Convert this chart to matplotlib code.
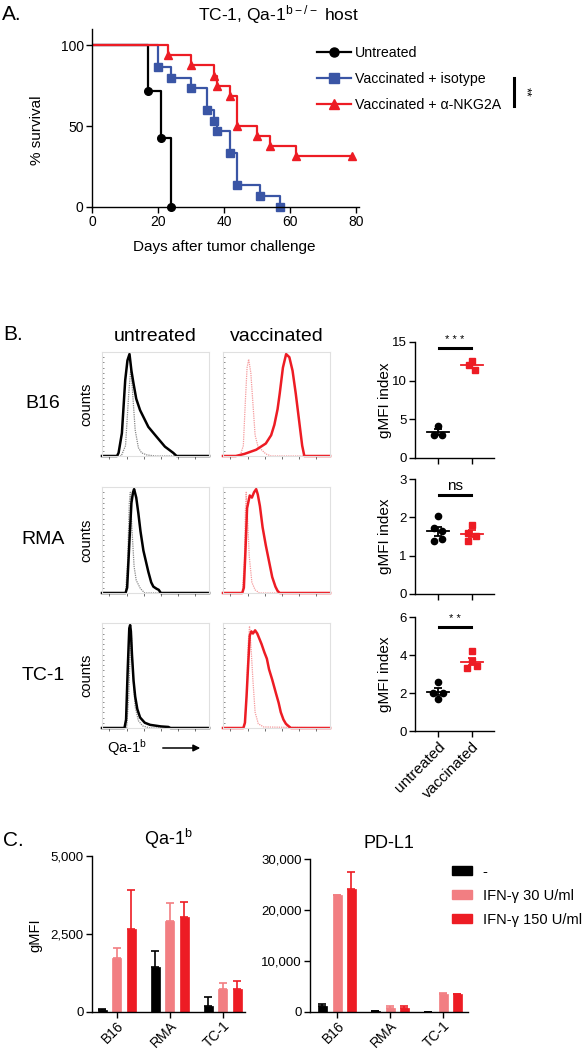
import numpy as np
import matplotlib.pyplot as plt
from matplotlib.lines import Line2D
from matplotlib.patches import Patch, FancyArrowPatch

plt.rcParams['font.family'] = ['Liberation Sans', 'DejaVu Sans']
plt.rcParams['mathtext.fontset'] = 'custom'
plt.rcParams['mathtext.rm'] = 'Liberation Sans'
plt.rcParams['mathtext.default'] = 'regular'

W, H = 584, 1050
RED = '#ed1c24'
LIGHT_RED = '#f27e82'
BLUE = '#3a55a5'

# ---------------- panel A: survival ----------------
days_untreated = [0, 17, 21, 24]
surv_untreated = [100, 71.4, 42.9, 0]
days_isotype = [0, 20, 24, 30, 35, 37, 38, 42, 44, 51, 57]
surv_isotype = [100, 86.7, 80, 73.3, 60, 53.3, 46.7, 33.3, 13.3, 6.7, 0]
days_nkg2a = [0, 23, 30, 37, 38, 42, 44, 50, 54, 62, 79]
surv_nkg2a = [100, 93.75, 87.5, 81.25, 75, 68.75, 50, 43.75, 37.5, 31.25, 31.25]
labels_a = ['Untreated', 'Vaccinated + isotype', 'Vaccinated + α-NKG2A']

# ---------------- panel B: histograms (x = channel fraction, y = fraction of max) ----------------
b16_untr_x = [0, 0.14, 0.155, 0.186, 0.217, 0.238, 0.257, 0.275, 0.294, 0.32, 0.356, 0.433, 0.51, 0.588, 0.666, 0.697, 1]
b16_untr_y = [0, 0, 0.03, 0.22, 0.73, 0.92, 0.98, 0.82, 0.70, 0.55, 0.44, 0.28, 0.185, 0.09, 0.03, 0, 0]
b16_untr_iso_x = [0, 0.18, 0.22, 0.25, 0.27, 0.29, 0.31, 0.34, 0.37, 0.42, 0.5, 1]
b16_untr_iso_y = [0, 0, 0.1, 0.6, 0.85, 0.55, 0.25, 0.08, 0.03, 0.01, 0, 0]
b16_vacc_x = [0, 0.12, 0.2, 0.31, 0.40, 0.45, 0.48, 0.51, 0.53, 0.56, 0.59, 0.62, 0.65, 0.68, 0.71, 0.74, 0.76, 1]
b16_vacc_y = [0, 0, 0.02, 0.06, 0.12, 0.2, 0.3, 0.45, 0.6, 0.85, 0.98, 0.95, 0.82, 0.6, 0.35, 0.1, 0, 0]
b16_vacc_iso_x = [0, 0.16, 0.19, 0.21, 0.225, 0.24, 0.26, 0.28, 0.30, 0.33, 0.36, 0.40, 0.45, 1]
b16_vacc_iso_y = [0, 0, 0.1, 0.55, 0.85, 0.93, 0.8, 0.5, 0.2, 0.08, 0.06, 0.02, 0, 0]

rma_untr_x = [0, 0.22, 0.235, 0.257, 0.275, 0.29, 0.30, 0.32, 0.34, 0.36, 0.387, 0.41, 0.433, 0.46, 0.48, 0.51, 0.53, 0.55, 1]
rma_untr_y = [0, 0, 0.05, 0.5, 0.85, 0.95, 0.98, 0.9, 0.75, 0.58, 0.4, 0.3, 0.2, 0.1, 0.06, 0.04, 0.03, 0, 0]
rma_untr_iso_x = [0, 0.22, 0.24, 0.255, 0.265, 0.28, 0.30, 0.32, 0.36, 0.40, 1]
rma_untr_iso_y = [0, 0, 0.3, 0.85, 0.95, 0.6, 0.25, 0.12, 0.04, 0, 0]
rma_vacc_x = [0, 0.18, 0.195, 0.21, 0.225, 0.25, 0.27, 0.29, 0.31, 0.325, 0.345, 0.37, 0.40, 0.43, 0.46, 0.49, 0.51, 0.53, 1]
rma_vacc_y = [0, 0, 0.05, 0.4, 0.8, 0.92, 0.9, 0.95, 0.98, 0.93, 0.82, 0.62, 0.45, 0.3, 0.15, 0.06, 0.02, 0, 0]
rma_vacc_iso_x = [0, 0.18, 0.2, 0.21, 0.217, 0.23, 0.245, 0.27, 0.3, 0.34, 1]
rma_vacc_iso_y = [0, 0, 0.3, 0.8, 0.95, 0.7, 0.35, 0.1, 0.03, 0, 0]

tc1_untr_x = [0, 0.21, 0.225, 0.24, 0.255, 0.263, 0.27, 0.28, 0.295, 0.31, 0.33, 0.356, 0.40, 0.45, 0.55, 0.62, 0.64, 1]
tc1_untr_y = [0, 0, 0.08, 0.55, 0.95, 0.98, 0.92, 0.7, 0.45, 0.3, 0.18, 0.1, 0.05, 0.03, 0.015, 0.01, 0, 0]
tc1_untr_iso_x = [0, 0.23, 0.25, 0.265, 0.275, 0.29, 0.31, 0.34, 0.38, 0.45, 1]
tc1_untr_iso_y = [0, 0, 0.3, 0.8, 0.88, 0.5, 0.2, 0.07, 0.02, 0, 0]
tc1_vacc_x = [0, 0.19, 0.205, 0.22, 0.235, 0.25, 0.265, 0.28, 0.30, 0.32, 0.34, 0.36, 0.387, 0.41, 0.43,
              0.46, 0.495, 0.52, 0.54, 0.565, 0.588, 0.61, 0.635, 1]
tc1_vacc_y = [0, 0, 0.05, 0.3, 0.6, 0.88, 0.92, 0.9, 0.93, 0.9, 0.85, 0.8, 0.72, 0.66, 0.56,
              0.46, 0.33, 0.24, 0.15, 0.08, 0.04, 0.02, 0, 0]
tc1_vacc_iso_x = [0, 0.2, 0.22, 0.235, 0.248, 0.26, 0.28, 0.30, 0.33, 0.38, 1]
tc1_vacc_iso_y = [0, 0, 0.3, 0.8, 0.97, 0.8, 0.45, 0.15, 0.04, 0.01, 0]

# ---------------- panel B: gMFI index dot plots ----------------
b16_untr_dots = [4.2, 3.0, 3.0]
b16_vacc_dots = [12.6, 12.0, 11.4]
rma_untr_dots = [2.03, 1.72, 1.65, 1.44, 1.37]
rma_vacc_dots = [1.80, 1.60, 1.51, 1.37]
tc1_untr_dots = [2.6, 2.0, 2.0, 1.7]
tc1_vacc_dots = [4.2, 3.7, 3.4, 3.3]
dot_groups = ['untreated', 'vaccinated']

# ---------------- panel C: bar charts ----------------
cell_lines = ['B16', 'RMA', 'TC-1']
treatments = ['-', 'IFN-γ 30 U/ml', 'IFN-γ 150 U/ml']
qa1_none = [50, 1440, 190]
qa1_none_err = [55, 500, 290]
qa1_ifn30 = [1730, 2910, 750]
qa1_ifn30_err = [320, 580, 190]
qa1_ifn150 = [2650, 3050, 740]
qa1_ifn150_err = [1250, 480, 240]
pdl1_none = [1200, 260, 60]
pdl1_none_err = [400, 0, 0]
pdl1_ifn30 = [22900, 720, 3600]
pdl1_ifn30_err = [130, 520, 130]
pdl1_ifn150 = [24200, 720, 3460]
pdl1_ifn150_err = [3200, 520, 0]

fig = plt.figure(figsize=(W / 100, H / 100), dpi=100)


def add_ax(x0, y0, x1, y1):
    return fig.add_axes([x0 / W, 1 - y1 / H, (x1 - x0) / W, (y1 - y0) / H])


def ftext(x, y, s, **kw):
    fig.text(x / W, 1 - y / H, s, **kw)


def clean(ax, labelsize=9):
    ax.spines['top'].set_visible(False)
    ax.spines['right'].set_visible(False)
    for s in ['left', 'bottom']:
        ax.spines[s].set_linewidth(1.0)
    ax.tick_params(direction='out', length=4, width=1.0, labelsize=labelsize, pad=2)


# ===== A =====
ftext(2, 14, 'A.', fontsize=15, va='center')
ftext(278, 15, 'TC-1, Qa-1$^{b-/-}$ host', fontsize=12.5, ha='center', va='center')
ax = add_ax(92, 29, 359.4, 207)
series = [(days_untreated, surv_untreated, 'black', 'o', 5.5),
          (days_isotype, surv_isotype, BLUE, 's', 5.5),
          (days_nkg2a, surv_nkg2a, RED, '^', 6)]
handles = []
for (d, s, c, m, ms), lab in zip(series, labels_a):
    ax.step(d, s, where='post', color=c, lw=1.6)
    ax.plot(d[1:], s[1:], m, color=c, ms=ms, ls='none', clip_on=False)
    handles.append(Line2D([], [], color=c, marker=m, ms=ms + 1, lw=1.6))
ax.set_xlim(0, 81.1)
ax.set_ylim(0, 110)
ax.set_xticks([0, 20, 40, 60, 80])
ax.set_yticks([0, 50, 100])
clean(ax, labelsize=10)
ftext(37, 130, '% survival', fontsize=11, rotation=90, ha='center', va='center')
ftext(224, 247, 'Days after tumor challenge', fontsize=11, ha='center', va='center')
ax.legend(handles=handles, labels=labels_a, loc='upper left', bbox_to_anchor=(317 / W, 1 - 46 / H),
          bbox_transform=fig.transFigure, frameon=False, fontsize=10.2, handlelength=2.4,
          handletextpad=0.3, labelspacing=0.85, borderpad=0, borderaxespad=0)
fig.add_artist(Line2D([514 / W, 514 / W], [1 - 78 / H, 1 - 106 / H], color='black', lw=2.2,
                      transform=fig.transFigure))
ftext(525, 92, '**', fontsize=9, rotation=270, ha='center', va='center')

# ===== B: histograms =====
ftext(3, 335, 'B.', fontsize=15, va='center')
ftext(155, 336, 'untreated', fontsize=14, ha='center', va='center')
ftext(277, 336, 'vaccinated', fontsize=14, ha='center', va='center')


def hist_panel(box, sx, sy, ix, iy, color, iso_color):
    a = add_ax(*box)
    a.plot(ix, iy, color=iso_color, lw=0.9, ls=(0, (1, 0.8)), clip_on=False)
    a.plot(sx, sy, color=color, lw=1.8, clip_on=False)
    a.set_xlim(0, 1)
    a.set_ylim(0, 1)
    for sp in a.spines.values():
        sp.set_color('#e0e0e0')
        sp.set_linewidth(0.8)
    a.set_yticks(np.arange(0, 1.01, 0.2))
    a.set_yticks(np.arange(0, 1.0, 0.05), minor=True)
    a.tick_params(axis='y', which='both', direction='in', length=1.5, width=0.6, color='#777777',
                  labelleft=False)
    a.set_xticks([0.07, 0.23, 0.39, 0.55, 0.71, 0.87])
    a.tick_params(axis='x', direction='out', length=2, width=0.6, color='#555555', labelbottom=False)
    return a


rows = [('B16', 352, 456, (b16_untr_x, b16_untr_y, b16_untr_iso_x, b16_untr_iso_y),
         (b16_vacc_x, b16_vacc_y, b16_vacc_iso_x, b16_vacc_iso_y)),
        ('RMA', 487, 593, (rma_untr_x, rma_untr_y, rma_untr_iso_x, rma_untr_iso_y),
         (rma_vacc_x, rma_vacc_y, rma_vacc_iso_x, rma_vacc_iso_y)),
        ('TC-1', 623, 728, (tc1_untr_x, tc1_untr_y, tc1_untr_iso_x, tc1_untr_iso_y),
         (tc1_vacc_x, tc1_vacc_y, tc1_vacc_iso_x, tc1_vacc_iso_y))]
for name, top, bot, untr, vacc in rows:
    hist_panel((102, top, 209, bot), *untr, 'black', '#888888')
    hist_panel((223, top, 330, bot), *vacc, RED, '#f59a9c')
    ftext(43, (top + bot) / 2, name, fontsize=14, ha='center', va='center')
    ftext(86, (top + bot) / 2, 'counts', fontsize=10.5, rotation=90, ha='center', va='center')

ftext(107, 748, 'Qa-1$^{b}$', fontsize=10.5, va='center')
fig.add_artist(FancyArrowPatch((160 / W, 1 - 748 / H), (203 / W, 1 - 748 / H), transform=fig.transFigure,
                               arrowstyle='-|>', mutation_scale=10, lw=1.1, color='black'))


# ===== B: dot plots =====
def dot_panel(top, bot, untr, vacc, ymax, yticks, jit_u, jit_v, sig, sig_y, sig_fs, xlabels=False):
    a = add_ax(415, top, 494, bot)
    for i, (vals, jit, col, mk) in enumerate([(untr, jit_u, 'black', 'o'), (vacc, jit_v, RED, 's')]):
        vals = np.array(vals, dtype=float)
        a.plot(i + np.array(jit), vals, mk, color=col, ms=4.5, ls='none', clip_on=False)
        m = vals.mean()
        se = vals.std(ddof=1) / np.sqrt(len(vals))
        a.plot([i - 0.33, i + 0.33], [m, m], color=col, lw=1.3)
        a.errorbar([i], [m], yerr=[se], color=col, lw=1.3, capsize=3, capthick=1.3)
    a.plot([0.02, 0.97], [sig_y, sig_y], color='black', lw=2.2)
    a.text(0.5, sig_y + ymax * 0.025, sig, fontsize=sig_fs, ha='center', va='bottom')
    a.set_xlim(-0.68, 1.65)
    a.set_ylim(0, ymax)
    a.set_yticks(yticks)
    a.set_xticks([0, 1])
    clean(a, labelsize=9.5)
    if xlabels:
        a.set_xticklabels(dot_groups, rotation=45, ha='right', rotation_mode='anchor', fontsize=11)
    else:
        a.set_xticklabels([])
    ftext(385, (top + bot) / 2, 'gMFI index', fontsize=11, rotation=90, ha='center', va='center')
    return a


dot_panel(342, 458, b16_untr_dots, b16_vacc_dots, 15, [0, 5, 10, 15],
          [0, -0.13, 0.13], [0, -0.1, 0.1], '* * *', 14.2, 8)
dot_panel(479, 594, rma_untr_dots, rma_vacc_dots, 3, [0, 1, 2, 3],
          [0, -0.13, 0.13, 0.13, -0.13], [0, -0.13, 0.13, -0.13], 'ns', 2.57, 11)
dot_panel(617, 731, tc1_untr_dots, tc1_vacc_dots, 6, [0, 2, 4, 6],
          [0, -0.15, 0.15, 0], [0, 0, 0.15, -0.15], '* *', 5.46, 8, xlabels=True)

# ===== C =====
ftext(3, 840, 'C.', fontsize=15, va='center')
offsets = [-0.28, 0, 0.27]
colors_c = ['black', LIGHT_RED, RED]


def bar_panel(box, xlim, ymax, yticks, vals, errs, title):
    a = add_ax(*box)
    x = np.arange(len(cell_lines))
    for off, v, e, c in zip(offsets, vals, errs, colors_c):
        a.bar(x + off, v, width=0.17, color=c, edgecolor=c, lw=0.5)
        a.errorbar(x + off, v, yerr=[np.zeros(len(e)), e], fmt='none', ecolor=c, elinewidth=1.2,
                   capsize=3, capthick=1.2)
    a.set_xlim(*xlim)
    a.set_ylim(0, ymax)
    a.set_yticks(yticks)
    a.set_yticklabels([f'{t:,}' for t in yticks])
    a.set_xticks(x)
    clean(a, labelsize=9.5)
    a.set_xticklabels(cell_lines, rotation=45, ha='right', rotation_mode='anchor', fontsize=10)
    a.tick_params(axis='x', pad=1)
    a.set_title(title, fontsize=13, pad=8)
    return a


bar_panel((92, 856, 245, 1012), (-0.47, 2.415), 5000, [0, 2500, 5000],
          [qa1_none, qa1_ifn30, qa1_ifn150], [qa1_none_err, qa1_ifn30_err, qa1_ifn150_err], 'Qa-1$^{b}$')
ftext(35, 935, 'gMFI', fontsize=10.5, rotation=90, ha='center', va='center')
ax2 = bar_panel((310, 859, 468, 1012), (-0.51, 2.47), 30000, [0, 10000, 20000, 30000],
                [pdl1_none, pdl1_ifn30, pdl1_ifn150], [pdl1_none_err, pdl1_ifn30_err, pdl1_ifn150_err], 'PD-L1')
leg_handles = [Patch(facecolor=c, edgecolor=c) for c in colors_c]
ax2.legend(handles=leg_handles, labels=treatments, loc='upper left', bbox_to_anchor=(452 / W, 1 - 865 / H),
           bbox_transform=fig.transFigure, frameon=False, fontsize=10.5, handlelength=1.4,
           handleheight=0.55, handletextpad=0.7, labelspacing=0.68, borderpad=0, borderaxespad=0)

fig.savefig('out.png', dpi=100)
